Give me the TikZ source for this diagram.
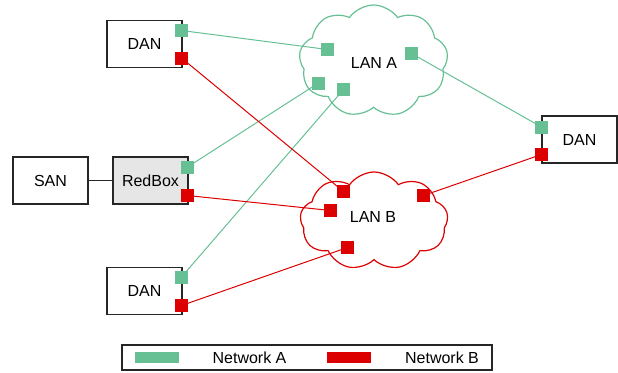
\documentclass[tikz,border=0pt]{standalone}
\usepackage{fontspec}
\setmainfont{Liberation Sans}
\usepackage{tikz}
\usetikzlibrary{shapes.symbols,backgrounds}
\definecolor{neta}{RGB}{103,192,148}
\definecolor{netb}{RGB}{221,0,0}
\definecolor{boxgray}{RGB}{230,230,230}

\tikzset{
    device/.style={draw=black!85, line width=1.3pt, minimum width=75pt, minimum height=47pt, inner sep=0pt},
    porta/.style={rectangle, fill=neta, minimum size=13pt, inner sep=0pt},
    portb/.style={rectangle, fill=netb, minimum size=13pt, inner sep=0pt},
    lan/.style={cloud, cloud puffs=9, cloud puff arc=110, cloud ignores aspect, line width=1.2pt, inner sep=0pt},
}

\begin{document}
\begin{tikzpicture}[x=1pt, y=-1pt, font=\fontsize{16}{19}\selectfont]

\useasboundingbox (0,0) rectangle (618,372);

% ==================== DEVICES ====================

\node[device] (dantop) at (144.5,44) {DAN};
\node[device] (san) at (50.5,180.5) {SAN};
\node[device, fill=boxgray] (redbox) at (150.5,180.5) {RedBox};
\node[device] (danbot) at (144.5,291) {DAN};
\node[device] (danright) at (579.5,139.5) {DAN};

\draw[black!85, line width=1.3pt] (san) -- (redbox);

% ==================== LANs ====================

\node[lan, draw=neta, minimum width=149pt, minimum height=112pt] (lana) at (373.5,61) {};
\node at (374,63) (lanatxt) {LAN A};
\node[lan, draw=netb, minimum width=148pt, minimum height=98pt] (lanb) at (374,221) {};
\node at (373,217) (lanbtxt) {LAN B};

% ==================== PORTS ====================

% Network A
\node[porta] (pa1) at (181.5,30.5) {};
\node[porta] (pa2) at (187.5,167) {};
\node[porta] (pa3) at (181.5,277) {};
\node[porta] (pa4) at (541.5,127) {};
\node[porta] (la1) at (327.5,49.5) {};
\node[porta] (la2) at (318.5,83) {};
\node[porta] (la3) at (343.5,89.5) {};
\node[porta] (la4) at (411.5,53.5) {};

% Network B
\node[portb] (pb1) at (181.5,58) {};
\node[portb] (pb2) at (187.5,195.5) {};
\node[portb] (pb3) at (181.5,305.5) {};
\node[portb] (pb4) at (541.5,154.5) {};
\node[portb] (lb1) at (343.5,191.5) {};
\node[portb] (lb2) at (330.5,210.5) {};
\node[portb] (lb3) at (347.5,247.5) {};
\node[portb] (lb4) at (423.5,195.5) {};

% ==================== LINKS ====================

\begin{scope}[on background layer]
    \draw[neta, line width=1pt] (pa1.center) -- (la1.center);
    \draw[neta, line width=1pt] (pa2.center) -- (la2.center);
    \draw[neta, line width=1pt] (pa3.center) -- (la3.center);
    \draw[neta, line width=1pt] (la4.center) -- (pa4.center);

    \draw[netb, line width=1pt] (pb1.center) -- (lb1.center);
    \draw[netb, line width=1pt] (pb2.center) -- (lb2.center);
    \draw[netb, line width=1pt] (pb3.center) -- (lb3.center);
    \draw[netb, line width=1pt] (lb4.center) -- (pb4.center);
\end{scope}

% ==================== LEGEND ====================

\node[draw=black!85, line width=1.3pt, minimum width=370pt, minimum height=25pt] (legend) at (307,357.5) {};
\node[fill=neta, minimum width=44pt, minimum height=11pt, inner sep=0pt] (keya) at (157,357.5) {};
\node (texta) at (249.5,358) {Network A};
\node[fill=netb, minimum width=44pt, minimum height=11pt, inner sep=0pt] (keyb) at (349,357.5) {};
\node (textb) at (442,358) {Network B};

\end{tikzpicture}
\end{document}
